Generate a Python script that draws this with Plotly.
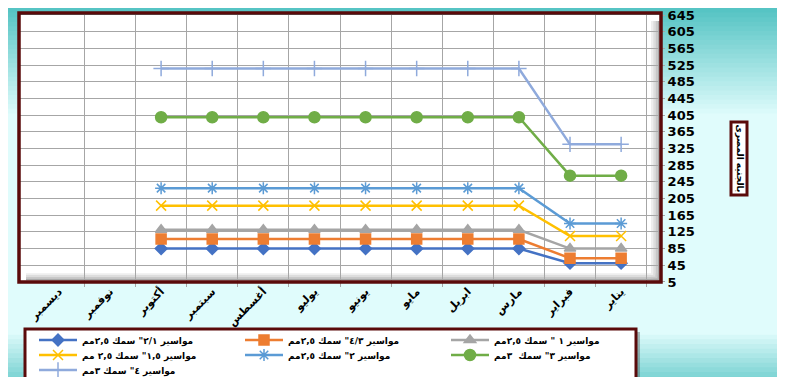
import plotly.graph_objects as go

## ----------- data ----------- ##
months = ["يناير", "فبراير", "مارس", "ابريل", "مايو", "يونيو",
          "يوليو", "أغسطس", "سبتمبر", "أكتوبر", "نوفمبر", "ديسمبر"]

pipe_half = [50, 50, 85, 85, 85, 85, 85, 85, 85, 85, None, None]
pipe_three_quarter = [62, 62, 108, 108, 108, 108, 108, 108, 108, 108, None, None]
pipe_one = [85, 85, 130, 130, 130, 130, 130, 130, 130, 130, None, None]
pipe_one_half = [115, 115, 188, 188, 188, 188, 188, 188, 188, 188, None, None]
pipe_two = [145, 145, 230, 230, 230, 230, 230, 230, 230, 230, None, None]
pipe_three = [260, 260, 400, 400, 400, 400, 400, 400, 400, 400, None, None]
pipe_four = [335, 335, 517, 517, 517, 517, 517, 517, 517, 517, None, None]

series_names = [
    'مواسير ٢/١" سمك ٢,٥مم',
    'مواسير ٤/٣" سمك ٢,٥مم',
    'مواسير ١ " سمك ٢,٥مم',
    'مواسير ١,٥" سمك ٢,٥ مم',
    'مواسير ٢" سمك ٢,٥مم',
    'مواسير ٣" سمك  ٣مم',
    'مواسير ٤" سمك ٣مم',
]
y_ticks = list(range(5, 646, 40))
axis_title = "بالجنيه المصرى"

## ----------- page geometry (px) ----------- ##
W, H = 785, 377
PL, PR, PT, PB = 12, 652, 7, 274   # plot area edges


def px_x(q):
    return (q - PL) / (PR - PL)


def px_y(p):
    return (PB - p) / (PB - PT)


def mix(c1, c2, t):
    return "rgb(%d,%d,%d)" % tuple(round(a + (b - a) * t) for a, b in zip(c1, c2))


styles = [
    dict(color="#4472C4", symbol="diamond", size=9),
    dict(color="#ED7D31", symbol="square", size=10),
    dict(color="#A5A5A5", symbol="triangle-up", size=10),
    dict(color="#FFC000", symbol="x-thin-open", size=10),
    dict(color="#5B9BD5", symbol="asterisk-open", size=10),
    dict(color="#70AD47", symbol="circle", size=11),
    dict(color="#8FAADC", symbol="cross-thin-open", size=11),
]
values = [pipe_half, pipe_three_quarter, pipe_one, pipe_one_half,
          pipe_two, pipe_three, pipe_four]
# legend rows: 3 + 3 + 1 entries, one plotly legend per row
legend_rows = ["legend", "legend", "legend", "legend2", "legend2", "legend2", "legend3"]

fig = go.Figure()
for name, vals, st, lg in zip(series_names, values, styles, legend_rows):
    fig.add_trace(go.Scatter(
        x=months, y=vals, name=name, mode="lines+markers", legend=lg,
        line=dict(color=st["color"], width=2.5),
        marker=dict(symbol=st["symbol"], size=st["size"], color=st["color"],
                    line=dict(color=st["color"], width=1.5)),
    ))

## ----------- background gradient + frame ----------- ##
shapes = []
teal = (86, 196, 196)
pale = (224, 252, 252)
n = 24
for i in range(n):
    y0, y1 = i * 110 / n, (i + 1.6) * 110 / n
    shapes.append(dict(type="rect", xref="paper", yref="paper", layer="below",
                       x0=px_x(-2), x1=px_x(W + 2), y0=px_y(y1), y1=px_y(y0 - 2 if i == 0 else y0),
                       line=dict(width=0), fillcolor=mix(teal, pale, i / (n - 1))))
m = 12
for i in range(m):
    y0, y1 = 322 + i * 56 / m, 322 + (i + 1.6) * 56 / m
    shapes.append(dict(type="rect", xref="paper", yref="paper", layer="below",
                       x0=px_x(-2), x1=px_x(W + 2), y0=px_y(y1 + 3), y1=px_y(y0),
                       line=dict(width=0), fillcolor=mix(pale, (110, 205, 205), i / (m - 1))))
# white chart area
shapes.append(dict(type="rect", xref="paper", yref="paper", layer="below",
                   x0=px_x(PL), x1=px_x(PR), y0=px_y(PB), y1=px_y(PT),
                   line=dict(width=0), fillcolor="white"))
# soft bevel shading on right and bottom
for k, c in enumerate(["#eeeeee", "#dddddd", "#c8c8c8", "#a8a8a8"]):
    shapes.append(dict(type="rect", xref="paper", yref="paper", layer="below",
                       x0=px_x(PR - 9 + k * 2.2), x1=px_x(PR - 6.8 + k * 2.2),
                       y0=px_y(PB), y1=px_y(PT + 6),
                       line=dict(width=0), fillcolor=c))
    shapes.append(dict(type="rect", xref="paper", yref="paper", layer="below",
                       x0=px_x(PL + 6), x1=px_x(PR),
                       y0=px_y(PB - 7 + k * 1.8), y1=px_y(PB - 8.8 + k * 1.8),
                       line=dict(width=0), fillcolor=c))
# dark maroon frame
shapes.append(dict(type="rect", xref="paper", yref="paper", layer="above",
                   x0=px_x(PL - 1), x1=px_x(PR + 1), y0=px_y(PB), y1=px_y(PT - 2),
                   line=dict(color="#5a0a0a", width=3.5)))
# legend box with a soft shadow
shapes.append(dict(type="rect", xref="paper", yref="paper", layer="below",
                   x0=px_x(20), x1=px_x(632), y0=px_y(378), y1=px_y(324),
                   line=dict(width=0), fillcolor="rgba(60,60,60,0.35)"))
shapes.append(dict(type="rect", xref="paper", yref="paper", layer="below",
                   x0=px_x(17), x1=px_x(628), y0=px_y(375), y1=px_y(321),
                   line=dict(color="#5a0a0a", width=3), fillcolor="white"))

legend_font = dict(size=9, family="DejaVu Sans, Arial", weight="bold", color="black")


def row_legend(py):
    return dict(
        orientation="h", x=px_x(26), y=px_y(py), xanchor="left", yanchor="middle",
        bgcolor="rgba(0,0,0,0)", borderwidth=0,
        entrywidth=153, entrywidthmode="pixels",
        font=legend_font, itemwidth=38, tracegroupgap=0,
    )


fig.update_layout(
    width=W, height=H,
    margin=dict(l=PL, r=W - PR, t=PT, b=H - PB, autoexpand=False),
    paper_bgcolor="rgb(224,252,252)",
    plot_bgcolor="rgba(0,0,0,0)",
    shapes=shapes,
    font=dict(family="DejaVu Sans, Arial", color="black"),
    showlegend=True,
    legend=row_legend(332),
    legend2=row_legend(347),
    legend3=row_legend(362),
    annotations=[dict(
        text=axis_title, textangle=90, xref="paper", yref="paper",
        x=px_x(741), y=px_y(150), showarrow=False,
        font=dict(size=9, weight="bold"),
        bgcolor="white", bordercolor="#5a0a0a", borderwidth=3, borderpad=1,
    )],
)
fig.update_xaxes(
    categoryorder="array", categoryarray=months, autorange="reversed",
    tickson="boundaries", showgrid=True, gridcolor="#a6a6a6", gridwidth=1,
    ticks="outside", ticklen=4, tickcolor="#a6a6a6",
    tickangle=-45, tickfont=dict(size=11, weight="bold"),
    automargin=False, showline=False, zeroline=False,
)
fig.update_yaxes(
    side="right", range=[4.9, 645.2], tickvals=y_ticks,
    showgrid=True, gridcolor="#a6a6a6", gridwidth=1,
    ticks="outside", ticklen=4, tickcolor="#a6a6a6",
    tickfont=dict(size=13, weight="bold"), ticklabeloverflow="allow",
    automargin=False, zeroline=False, showline=False,
)

fig.write_html("out.html")
